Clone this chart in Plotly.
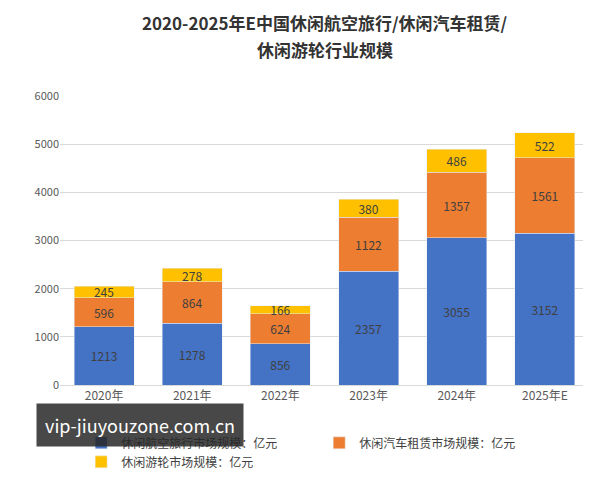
import plotly.graph_objects as go

years = ["2020年", "2021年", "2022年", "2023年", "2024年", "2025年E"]
air = [1213, 1278, 856, 2357, 3055, 3152]
car = [596, 864, 624, 1122, 1357, 1561]
cruise = [245, 278, 166, 380, 486, 522]

names = ["休闲航空旅行市场规模：亿元", "休闲汽车租赁市场规模：亿元", "休闲游轮市场规模：亿元"]
colors = ["#4472C4", "#ED7D31", "#FFC000"]
title_lines = ["2020-2025年E中国休闲航空旅行/休闲汽车租赁/", "休闲游轮行业规模"]

fig = go.Figure()
for vals, name, c in zip([air, car, cruise], names, colors):
    fig.add_trace(go.Bar(x=years, y=vals, name=name, marker_color=c,
                         text=vals, textposition="inside", insidetextanchor="middle",
                         textfont=dict(color="#404040", size=12)))

fig.update_layout(
    barmode="stack", bargap=0.32,
    width=591, height=478,
    paper_bgcolor="white", plot_bgcolor="white",
    font=dict(family="Noto Sans CJK SC", color="#595959", size=12),
    uniformtext=dict(minsize=12, mode="show"),
    margin=dict(l=52, r=10, t=88, b=93),
    legend=dict(orientation="h", x=0.04, y=-0.15, xanchor="left", yanchor="top",
                traceorder="normal", entrywidth=0.45, entrywidthmode="fraction",
                font=dict(size=12, color="#404040")),
    yaxis=dict(range=[0, 6000], dtick=1000, gridcolor="#D9D9D9", zeroline=False,
               tickfont=dict(size=11)),
    xaxis=dict(showline=True, linecolor="#D9D9D9", tickfont=dict(size=12)),
)
for i, line in enumerate(title_lines):
    fig.add_annotation(text="<b>" + line + "</b>", xref="paper", yref="paper",
                       x=0.5, y=1.0 + (76 - 28 * i) / 297, xanchor="center", yanchor="middle",
                       showarrow=False, font=dict(size=17, color="#333333"))
fig.add_annotation(text="vip-jiuyouzone.com.cn", xref="paper", yref="paper",
                   x=-0.045, y=-0.14, xanchor="left", yanchor="middle", showarrow=False,
                   font=dict(size=18, color="white"), bgcolor="rgba(40,40,40,0.85)",
                   borderpad=8)
fig.write_html("out.html")
